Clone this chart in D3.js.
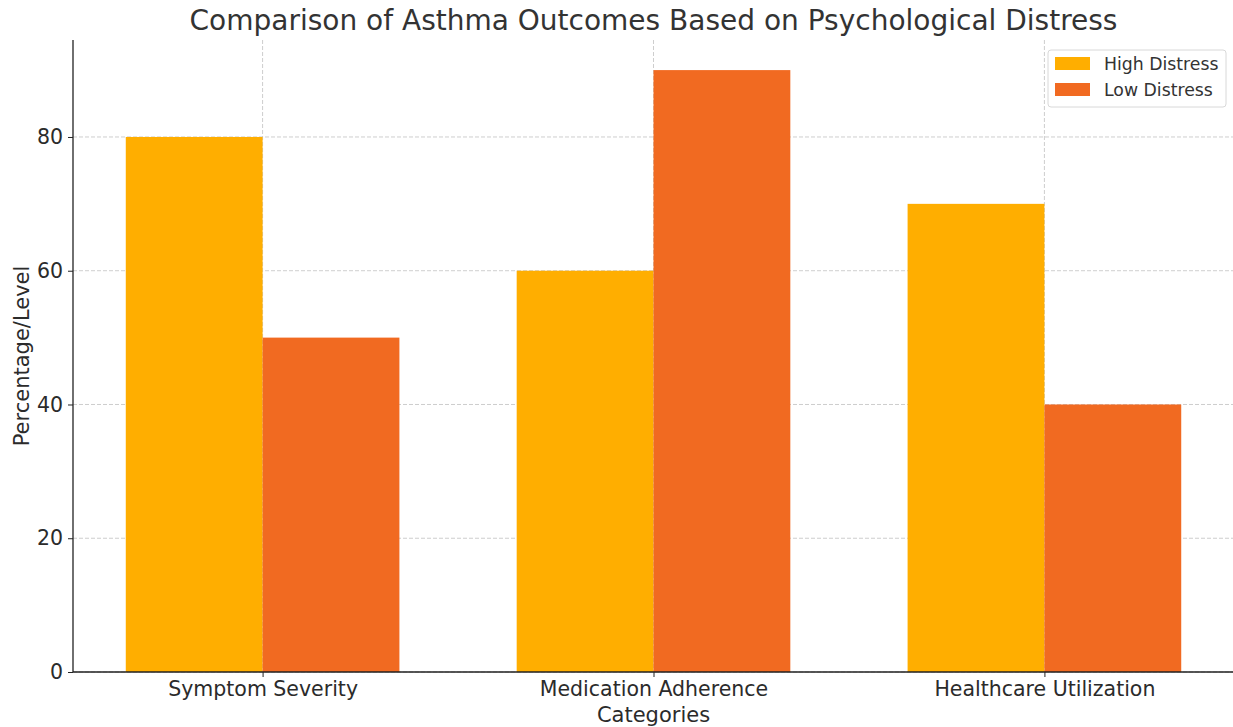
<!DOCTYPE html>
<html>
<head>
<meta charset="utf-8">
<script src="https://cdn.jsdelivr.net/npm/d3@7"></script>
<style>
  body { margin: 0; background: #fff; }
  svg { display: block; font-family: "DejaVu Sans", sans-serif; }
</style>
</head>
<body>
<svg id="chart" width="1233" height="727"></svg>
<script>
// Outcome categories and the two distress groups
const categories = ["Symptom Severity", "Medication Adherence", "Healthcare Utilization"];
const highDistress = [80, 60, 70];
const lowDistress = [50, 90, 40];
const seriesNames = ["High Distress", "Low Distress"];
const seriesColors = ["#FFAE00", "#F16A21"];
const yTicks = [0, 20, 40, 60, 80];

const svg = d3.select("#chart");
const margin = { left: 73, right: -1, top: 40, bottom: 55 };
const W = 1233, H = 727;
const plotLeft = margin.left, plotRight = W - margin.right;
const plotTop = margin.top, plotBottom = H - margin.bottom;

const barW = 0.35;
const xMin = -barW - 0.135, xMax = (categories.length - 1) + barW + 0.135;
const x = d3.scaleLinear().domain([xMin, xMax]).range([plotLeft, plotRight]);
const yMax = d3.max([...highDistress, ...lowDistress]) * 1.05;
const y = d3.scaleLinear().domain([0, yMax]).range([plotBottom, plotTop]);

const series = [highDistress, lowDistress];
const textColor = "#2b2b2b";
const font = "DejaVu Sans, sans-serif";

// Grid lines (dashed, behind bars)
const grid = svg.append("g");
grid.selectAll("line.hy").data(yTicks).join("line")
  .attr("x1", plotLeft).attr("x2", plotRight)
  .attr("y1", d => y(d)).attr("y2", d => y(d))
  .attr("stroke", "#c8c8c8").attr("stroke-width", 0.9).attr("stroke-dasharray", "4,2");
grid.selectAll("line.vx").data(categories).join("line")
  .attr("x1", (d, i) => x(i)).attr("x2", (d, i) => x(i))
  .attr("y1", plotTop).attr("y2", plotBottom)
  .attr("stroke", "#c8c8c8").attr("stroke-width", 0.9).attr("stroke-dasharray", "4,2");

// Bars
series.forEach((vals, s) => {
  const offset = s === 0 ? -barW : 0;
  svg.append("g").selectAll("rect").data(vals).join("rect")
    .attr("x", (d, i) => x(i + offset))
    .attr("width", (d, i) => x(i + offset + barW) - x(i + offset))
    .attr("y", d => y(d))
    .attr("height", d => y(0) - y(d))
    .attr("fill", seriesColors[s]);
});

// Y axis
const yAxis = svg.append("g").attr("transform", `translate(${plotLeft},0)`)
  .call(d3.axisLeft(y).tickValues(yTicks).tickSize(5).tickPadding(5).tickFormat(d3.format("d")));
yAxis.select(".domain").attr("stroke", "#222").attr("stroke-width", 1.3)
  .attr("d", `M0,${plotTop}V${plotBottom}`);
yAxis.selectAll(".tick line").attr("stroke", "#222");
yAxis.selectAll(".tick text").attr("fill", textColor).style("font-size", "20.5px")
  .style("font-family", font);

// X axis
const xAxis = svg.append("g").attr("transform", `translate(0,${plotBottom})`)
  .call(d3.axisBottom(x).tickValues(categories.map((c, i) => i)).tickSize(5).tickPadding(4)
    .tickFormat(i => categories[i]));
xAxis.select(".domain").attr("stroke", "#222").attr("stroke-width", 1.3)
  .attr("d", `M${plotLeft},0H${W}`);
xAxis.selectAll(".tick line").attr("stroke", "#222");
xAxis.selectAll(".tick text").attr("fill", textColor).style("font-size", "20.5px")
  .style("font-family", font);

// Axis titles
svg.append("text").attr("x", (plotLeft + plotRight) / 2).attr("y", 722)
  .attr("text-anchor", "middle").attr("fill", textColor).style("font-size", "21px")
  .text("Categories");
svg.append("text").attr("transform", `translate(29,${(plotTop + plotBottom) / 2}) rotate(-90)`)
  .attr("text-anchor", "middle").attr("fill", textColor).style("font-size", "21px")
  .text("Percentage/Level");

// Title
svg.append("text").attr("x", (plotLeft + plotRight) / 2).attr("y", 30)
  .attr("text-anchor", "middle").attr("fill", "#333").style("font-size", "28px")
  .text("Comparison of Asthma Outcomes Based on Psychological Distress");

// Legend
const lg = svg.append("g").attr("transform", "translate(1048,50)");
lg.append("rect").attr("x", 0).attr("y", 0).attr("width", 178).attr("height", 57)
  .attr("rx", 3).attr("fill", "#fff").attr("fill-opacity", 0.8)
  .attr("stroke", "#d8d8d8").attr("stroke-width", 1);
seriesNames.forEach((name, i) => {
  lg.append("rect").attr("x", 7).attr("y", 7 + i * 26).attr("width", 35).attr("height", 13)
    .attr("fill", seriesColors[i]);
  lg.append("text").attr("x", 56).attr("y", 20 + i * 26).attr("fill", "#333")
    .style("font-size", "17.3px").text(name);
});
</script>
</body>
</html>
